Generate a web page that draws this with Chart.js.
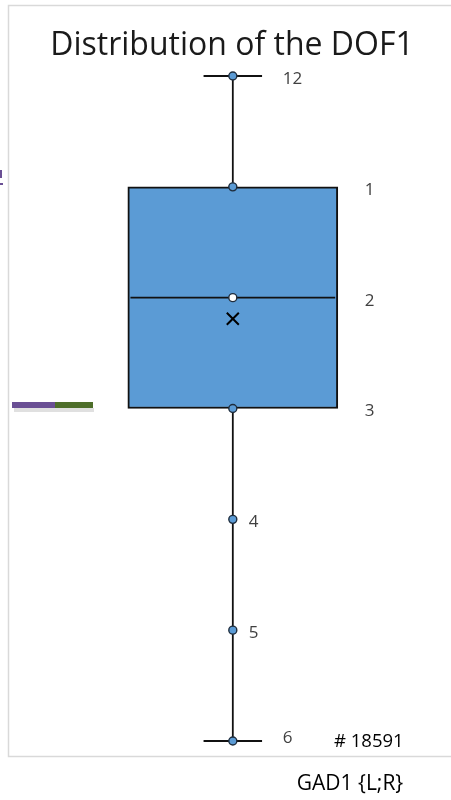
<!DOCTYPE html>
<html><head><meta charset="utf-8">
<script src="https://cdn.jsdelivr.net/npm/chart.js@4"></script>
<style>html,body{margin:0;padding:0;background:#fff}#wrap{width:451px;height:800px}</style>
</head><body><div id="wrap"><canvas id="c" width="451" height="800"></canvas></div>
<script>
// ---- data ----
const titleText = "Distribution of the DOF1";
const categoryLabel = "GAD1 {L;R}";
const countText = "# 18591";
const statNames  = ["max", "q3", "median", "q1", "p4", "p5", "min"];
const statValues = [6, 5, 4, 3, 2, 1, 0];
const statLabels = ["12", "1", "2", "3", "4", "5", "6"];
const statKinds  = ["whisker", "box", "box", "box", "point", "point", "whisker"];
const meanValue = 3.81;

// ---- style ----
const BLUE = "#5B9BD5";
const FONT = "'Open Sans', 'Noto Sans', sans-serif";
const BOX_W = 210, CAP_HALF = 30, MED_HALF = 105;

const q1 = statValues[statNames.indexOf("q1")];
const q3 = statValues[statNames.indexOf("q3")];
const med = statValues[statNames.indexOf("median")];
const vmin = Math.min(...statValues), vmax = Math.max(...statValues);

const decor = {
  id: "decor",
  beforeDraw(chart) {
    const c = chart.ctx;
    c.save();
    c.fillStyle = "#fff"; c.fillRect(0, 0, chart.width, chart.height);
    c.strokeStyle = "#d9d9d9"; c.lineWidth = 1.5;
    c.beginPath();
    c.moveTo(452, 5.5); c.lineTo(8.5, 5.5); c.lineTo(8.5, 756.5); c.lineTo(452, 756.5);
    c.stroke();
    // fragments of a neighbouring legend
    c.fillStyle = "rgba(0,0,0,0.12)"; c.fillRect(14, 408, 80, 4);
    c.fillStyle = "#6a4f94"; c.fillRect(12, 402, 44, 6);
    c.fillStyle = "#4e6e2a"; c.fillRect(55, 402, 38, 6);
    c.fillStyle = "#6a4f94"; c.fillRect(0, 183, 3, 2); c.fillRect(0, 170, 2, 8);
    c.restore();
  },
  afterDatasetsDraw(chart) {
    const c = chart.ctx, xs = chart.scales.x, ys = chart.scales.y;
    const cx = xs.getPixelForValue(0);
    c.save();
    c.fillStyle = "#404040";
    c.textBaseline = "middle";
    c.font = "17px " + FONT;
    statValues.forEach((v, i) => {
      const y = ys.getPixelForValue(v) + 3;
      const k = statKinds[i];
      const x = k === "box" ? cx + BOX_W / 2 + 27 : k === "whisker" ? cx + CAP_HALF + 20 : cx + 16;
      c.textAlign = "left";
      c.fillText(statLabels[i], x, i === statValues.length - 1 ? y - 6 : y);
    });
    c.font = "18.5px " + FONT;
    c.fillStyle = "#000";
    c.fillText(countText, 334, 742);
    c.font = "21px " + FONT;
    c.textAlign = "center";
    c.fillText(categoryLabel, 350, 784);
    c.font = "32px " + FONT;
    c.fillStyle = "#1a1a1a";
    c.fillText(titleText, 232, 46);
    c.restore();
  }
};

const lineStyle = { type: "line", borderColor: "#111", borderWidth: 1.8, pointRadius: 0, fill: false, order: 2 };

new Chart(document.getElementById("c"), {
  data: {
    datasets: [
      { type: "scatter", order: 0,
        data: statValues.map(v => ({ x: 0, y: v })),
        pointRadius: 4, pointBorderWidth: 1.4, pointBorderColor: "#1f2d3d",
        pointBackgroundColor: statNames.map(n => n === "median" ? "#fff" : BLUE) },
      { type: "scatter", order: 1, data: [{ x: 0, y: meanValue }],
        pointStyle: "crossRot", pointRadius: 8.5, pointBorderWidth: 2, pointBorderColor: "#000" },
      Object.assign({ data: [{ x: 0, y: q3 }, { x: 0, y: vmax }] }, lineStyle),
      Object.assign({ data: [{ x: 0, y: vmin }, { x: 0, y: q1 }] }, lineStyle),
      Object.assign({ data: [{ x: -CAP_HALF, y: vmax }, { x: CAP_HALF, y: vmax }] }, lineStyle),
      Object.assign({ data: [{ x: -CAP_HALF, y: vmin }, { x: CAP_HALF, y: vmin }] }, lineStyle),
      Object.assign({ data: [{ x: -MED_HALF, y: med }, { x: MED_HALF, y: med }] }, lineStyle),
      { type: "bar", order: 3, data: [{ x: 0, y: [q1, q3] }],
        backgroundColor: BLUE, borderColor: "#111", borderWidth: 2, borderSkipped: false,
        barThickness: BOX_W }
    ]
  },
  options: {
    responsive: false, animation: false,
    layout: { padding: { left: 10, right: 0, top: 76, bottom: 59 } },
    plugins: { legend: { display: false }, tooltip: { enabled: false }, title: { display: false } },
    scales: {
      x: { type: "linear", min: -228, max: 213, display: false, offset: false, grid: { offset: false } },
      y: { type: "linear", min: vmin, max: vmax, display: false, offset: false }
    },
    elements: { line: { tension: 0 } },
    clip: false
  },
  plugins: [decor]
});
</script></body></html>
